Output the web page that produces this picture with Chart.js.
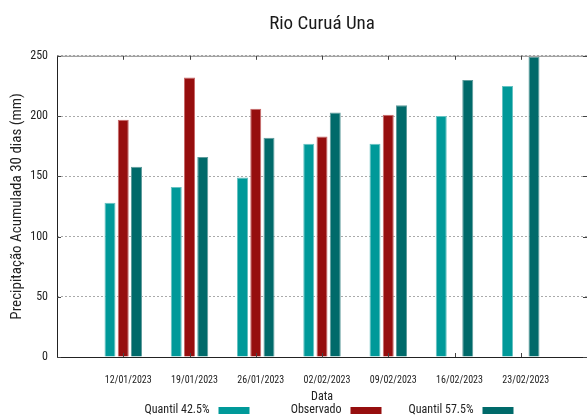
<!DOCTYPE html>
<html>
<head>
<meta charset="utf-8">
<title>Rio Curuá Una</title>
<script src="https://cdn.jsdelivr.net/npm/chart.js@4/dist/chart.umd.min.js"></script>
<style>
  html, body { margin: 0; padding: 0; background: #fff; }
</style>
</head>
<body>
<canvas id="chart" width="587" height="415"></canvas>
<script>
// ================= DATA =================
const dates = ['12/01/2023', '19/01/2023', '26/01/2023', '02/02/2023', '09/02/2023', '16/02/2023', '23/02/2023'];
const quantil425 = [128, 141, 149, 177, 177, 200, 225];
const observado = [197, 232, 206, 183, 201, null, null];
const quantil575 = [158, 166, 182, 203, 209, 230, 249];
const yTicks = [0, 50, 100, 150, 200, 250];

const seriesNames = ['Quantil 42.5%', 'Observado', 'Quantil 57.5%'];
const fills = ['#009999', '#960e0e', '#006a6a'];
const edges = ['#66c2c2', '#c86a6a', '#5f9c9c'];

const FONT = "'Roboto Condensed', 'Liberation Sans', sans-serif";

const toPts = arr => arr.map((v, i) => ({ x: i, y: v }));

// ================= FRAME + LEGEND (gnuplot look) =================
const framePlugin = {
  id: 'frame',
  afterDatasetsDraw(chart) {
    const { ctx, chartArea: a, scales } = chart;
    const xs = scales.x, ys = scales.y;
    ctx.save();
    ctx.lineWidth = 1;
    // top border
    ctx.strokeStyle = '#8a8a8a';
    ctx.beginPath();
    ctx.moveTo(a.left, a.top + 0.5);
    ctx.lineTo(a.right, a.top + 0.5);
    ctx.stroke();
    // left + bottom border
    ctx.strokeStyle = '#222';
    ctx.beginPath();
    ctx.moveTo(a.left + 0.5, a.top);
    ctx.lineTo(a.left + 0.5, a.bottom + 0.5);
    ctx.lineTo(a.right, a.bottom + 0.5);
    ctx.stroke();
    // inward ticks
    ctx.strokeStyle = '#444';
    ctx.beginPath();
    yTicks.forEach(v => {
      const y = Math.round(ys.getPixelForValue(v)) + 0.5;
      ctx.moveTo(a.left, y); ctx.lineTo(a.left + 4, y);
      ctx.moveTo(a.right, y); ctx.lineTo(a.right - 4, y);
    });
    dates.forEach((d, i) => {
      const x = Math.round(xs.getPixelForValue(i)) + 0.5;
      ctx.moveTo(x, a.bottom); ctx.lineTo(x, a.bottom - 4);
      ctx.moveTo(x, a.top); ctx.lineTo(x, a.top + 4);
    });
    ctx.stroke();

    // legend: text then sample box, right-aligned columns
    const cx = (a.left + a.right) / 2;
    ctx.font = '12px ' + FONT;
    ctx.textAlign = 'right';
    ctx.textBaseline = 'middle';
    seriesNames.forEach((name, i) => {
      const boxRight = cx + 59.5 + (i - 1) * 132;
      ctx.fillStyle = '#222';
      ctx.fillText(name, boxRight - 40, 410);
      ctx.fillStyle = fills[i];
      ctx.fillRect(boxRight - 31, 407, 31, 7);
    });
    ctx.restore();
  }
};

// ================= CHART =================
new Chart(document.getElementById('chart'), {
  type: 'bar',
  data: {
    datasets: [quantil425, observado, quantil575].map((arr, i) => ({
      label: seriesNames[i],
      data: toPts(arr),
      backgroundColor: fills[i],
      borderColor: edges[i],
      borderWidth: 1,
      barPercentage: 0.83,
      categoryPercentage: 0.6
    }))
  },
  options: {
    responsive: false,
    animation: false,
    devicePixelRatio: 1,
    layout: { padding: 0 },
    plugins: {
      legend: { display: false },
      tooltip: { enabled: false },
      title: {
        display: true,
        text: 'Rio Curuá Una',
        fullSize: false,
        color: '#1a1a1a',
        font: { family: FONT, size: 19, weight: 'normal' },
        padding: { top: 13, bottom: 20 }
      }
    },
    scales: {
      x: {
        type: 'linear',
        min: -1,
        max: 7,
        offset: false,
        grid: { display: false, drawTicks: false, offset: false },
        border: { display: false },
        ticks: {
          stepSize: 1,
          autoSkip: false,
          maxRotation: 0,
          padding: 17,
          labelOffset: 5,
          color: '#222',
          font: { family: FONT, size: 10 },
          callback: v => dates[v] ?? ''
        },
        title: {
          display: true,
          text: 'Data',
          color: '#222',
          font: { family: FONT, size: 12 },
          padding: { top: 0, bottom: 11 }
        },
        afterFit: s => {
          s.height = 58;
          s.paddingLeft = 0;
          s.paddingRight = 0;
        }
      },
      y: {
        min: 0,
        max: 250,
        grid: { color: '#aaa', lineWidth: 1, drawTicks: false },
        border: { display: false, dash: [2, 2] },
        ticks: {
          stepSize: 50,
          padding: 9,
          color: '#222',
          font: { family: FONT, size: 12 }
        },
        title: {
          display: true,
          text: 'Precipitação Acumulada 30 dias (mm)',
          color: '#222',
          font: { family: FONT, size: 15 },
          padding: { top: 8, bottom: 0 }
        },
        afterFit: s => { s.width = 57; }
      }
    }
  },
  plugins: [framePlugin]
});
</script>
</body>
</html>
